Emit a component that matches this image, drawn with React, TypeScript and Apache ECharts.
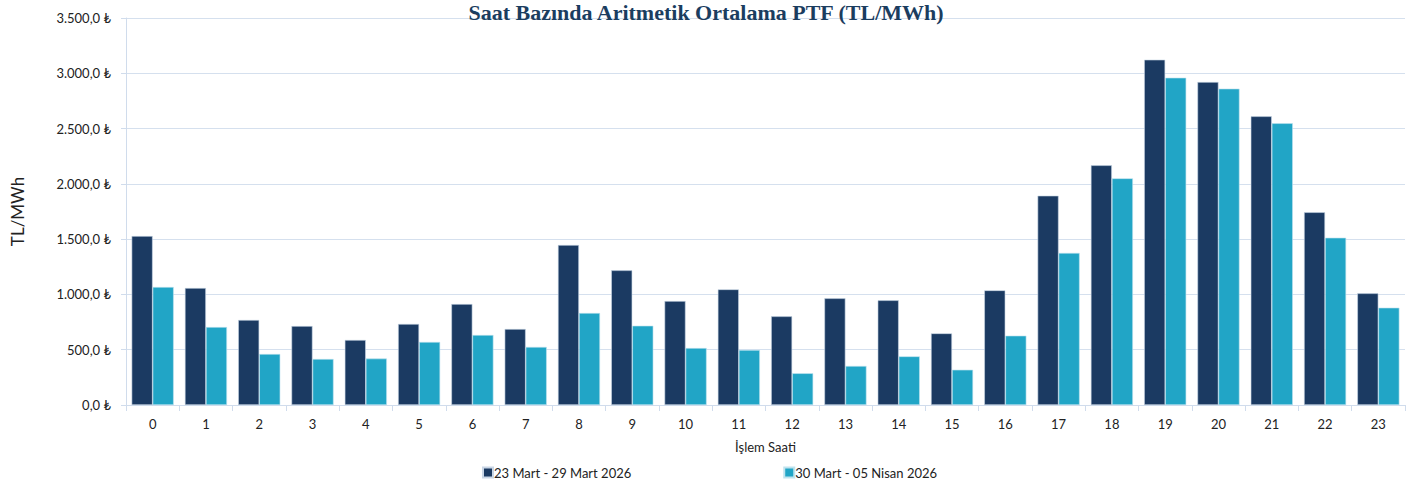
import React, { useEffect, useRef } from "react";
import * as echarts from "echarts";

const hours = ["0","1","2","3","4","5","6","7","8","9","10","11","12","13","14","15","16","17","18","19","20","21","22","23"];
const week1Name = "23 Mart - 29 Mart 2026";
const week2Name = "30 Mart - 05 Nisan 2026";
const week1 = [1528, 1058, 769, 714, 588, 733, 913, 687, 1447, 1218, 940, 1046, 802, 965, 947, 648, 1037, 1893, 2168, 3123, 2921, 2611, 1743, 1010];
const week2 = [1067, 705, 461, 416, 420, 570, 633, 525, 832, 717, 515, 497, 287, 353, 440, 319, 627, 1375, 2050, 2960, 2861, 2548, 1513, 880];
const yTicks = { min: 0, max: 3500, interval: 500 };

const fmt = (v: number) => {
  const s = Math.round(v).toString().replace(/\B(?=(\d{3})+(?!\d))/g, ".");
  return s + ",0 ₺";
};

export default function App() {
  const ref = useRef<HTMLDivElement>(null);
  useEffect(() => {
    if (!ref.current) return;
    const chart = echarts.init(ref.current, undefined, { renderer: "svg" });
    const font = "Lato, 'Open Sans', sans-serif";
    chart.setOption({
      animation: false,
      backgroundColor: "#ffffff",
      title: {
        text: "Saat Bazında Aritmetik Ortalama PTF (TL/MWh)",
        left: 701,
        textAlign: "center",
        top: -4,
        textStyle: {
          fontFamily: "'Liberation Serif', 'DejaVu Serif', serif",
          fontWeight: "bold",
          fontSize: 22,
          color: "#1B3D5F",
        },
      },
      legend: {
        left: 477,
        top: 461,
        itemWidth: 10,
        itemHeight: 10,
        itemGap: 152,
        icon: "rect",
        textStyle: { fontFamily: font, fontSize: 13, color: "#222", padding: [0, 0, 0, -4] },
        data: [week1Name, week2Name],
      },
      grid: { left: 126, right: 16, top: 18, bottom: 80, containLabel: false, outerBoundsMode: "none" },
      xAxis: {
        type: "category",
        data: hours,
        name: "İşlem Saati",
        nameLocation: "middle",
        nameGap: 35,
        nameTextStyle: { fontFamily: font, fontSize: 13, color: "#222" },
        axisLine: { lineStyle: { color: "#D0DCEC" } },
        axisTick: { show: true, length: 6, lineStyle: { color: "#D0DCEC" } },
        axisLabel: { fontFamily: font, fontSize: 13, color: "#222", margin: 12 },
      },
      yAxis: {
        type: "value",
        min: yTicks.min,
        max: yTicks.max,
        interval: yTicks.interval,
        name: "TL/MWh",
        nameLocation: "middle",
        nameGap: 100,
        nameRotate: 90,
        nameTextStyle: { fontFamily: font, fontSize: 17, color: "#222" },
        axisLine: { show: true, lineStyle: { color: "#D0DCEC" } },
        axisTick: { show: true, length: 5, lineStyle: { color: "#D0DCEC" } },
        axisLabel: { fontFamily: font, fontSize: 13, color: "#222", formatter: fmt, margin: 15 },
        splitLine: { lineStyle: { color: "#D5E0EE" } },
      },
      series: [
        {
          name: week1Name,
          type: "bar",
          data: week1,
          barGap: "0%",
          barCategoryGap: "21%",
          itemStyle: { color: "#1B3A62", borderColor: "#C9D6E6", borderWidth: 0.6 },
        },
        {
          name: week2Name,
          type: "bar",
          data: week2,
          itemStyle: { color: "#21A5C6", borderColor: "#BFE3EE", borderWidth: 0.6 },
        },
      ],
    });
    return () => chart.dispose();
  }, []);
  return <div ref={ref} style={{ position: "absolute", left: 0, top: 0, width: 1421, height: 485 }} />;
}
